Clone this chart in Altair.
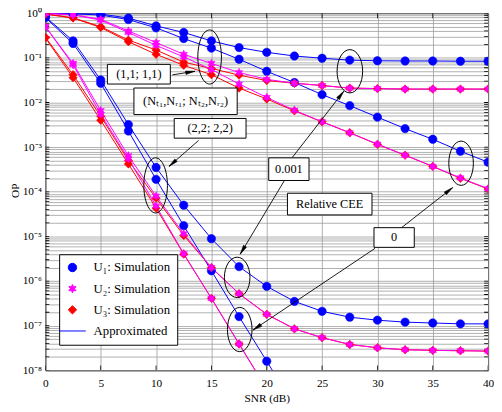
import math
import altair as alt
import pandas as pd

# ---------------- data ----------------
snr = [0, 2.5, 5, 7.5, 10, 12.5, 15, 17.5, 20, 22.5, 25, 27.5, 30, 32.5, 35, 37.5, 40]

# (Nt1,Nr1; Nt2,Nr2) = (1,1; 1,1)
u1_11_cee001 = [0.995, 0.98, 0.96, 0.78, 0.52, 0.37, 0.24, 0.17, 0.133, 0.11, 0.098, 0.089, 0.086, 0.085, 0.085, 0.084, 0.084]
u1_11_cee0 = [0.99, 0.97, 0.91, 0.72, 0.47, 0.27, 0.165, 0.093, 0.050, 0.028, 0.015, 0.0085, 0.0047, 0.0026, 0.0015, 0.00081, 0.00046]
u2_11_cee001 = [0.99, 0.93, 0.73, 0.40, 0.22, 0.12, 0.075, 0.047, 0.033, 0.027, 0.024, 0.021, 0.0205, 0.020, 0.020, 0.020, 0.020]
u2_11_cee0 = [0.99, 0.92, 0.70, 0.37, 0.19, 0.105, 0.055, 0.026, 0.013, 0.0067, 0.0037, 0.0021, 0.00117, 0.00066, 0.00037, 0.000205, 0.000117]
u3_11_cee001 = [0.96, 0.79, 0.50, 0.25, 0.15, 0.080, 0.058, 0.041, 0.031, 0.027, 0.024, 0.021, 0.0205, 0.020, 0.020, 0.020, 0.020]
u3_11_cee0 = [0.96, 0.78, 0.48, 0.23, 0.12, 0.068, 0.042, 0.021, 0.012, 0.0065, 0.0037, 0.0021, 0.00115, 0.00066, 0.00037, 0.0002, 0.000115]

# (2,2; 2,2)
u1_22_cee001 = [0.83, 0.24, 0.032, 0.0032, 3.5e-4, 5.0e-5, 8.9e-6, 2.1e-6, 7.6e-7, 3.5e-7, 2.1e-7, 1.55e-7, 1.33e-7, 1.2e-7, 1.15e-7, 1.1e-7, 1.1e-7]
u1_22_cee0 = [0.80, 0.21, 0.027, 0.0023, 1.9e-4, 1.74e-5, 1.7e-6, 1.6e-7, 1.6e-8, 1.6e-9]
u2_22_cee001 = [0.50, 0.075, 0.0066, 6.4e-4, 8.0e-5, 1.15e-5, 2.0e-6, 5.2e-7, 1.8e-7, 8.5e-8, 5.4e-8, 3.8e-8, 3.2e-8, 2.9e-8, 2.8e-8, 2.75e-8, 2.7e-8]
u2_22_cee0 = [0.50, 0.070, 0.0054, 5.5e-4, 4.8e-5, 4.1e-6, 4.1e-7, 3.9e-8, 3.8e-9]
u3_22_cee001 = [0.29, 0.042, 0.0049, 5.0e-4, 7.2e-5, 1.05e-5, 2.0e-6, 5.2e-7, 1.8e-7, 8.5e-8, 5.4e-8, 3.8e-8, 3.2e-8, 2.9e-8, 2.8e-8, 2.75e-8, 2.7e-8]
u3_22_cee0 = [0.28, 0.036, 0.0040, 4.2e-4, 4.3e-5, 4.0e-6, 4.1e-7, 3.9e-8, 3.8e-9]

users = ["U1", "U2", "U3"]
series_labels = ["U₁: Simulation", "U₂: Simulation", "U₃: Simulation", "Approximated"]

# annotations (positions in data units: SNR dB, OP)
box_text = ["(1,1; 1,1)", "(Nₜ₁,Nᵣ₁; Nₜ₂,Nᵣ₂)", "(2,2; 2,2)", "0.001", "Relative CEE", "0"]
box_x1 = [5.6, 8.0, 11.64, 20.18, 21.87, 29.69]
box_x2 = [11.29, 17.33, 18.13, 23.82, 29.51, 33.33]
box_y1 = [0.0714, 0.0211, 0.00439, 5.76e-4, 9.27e-5, 1.57e-5]
box_y2 = [0.0259, 0.00537, 0.00159, 1.79e-4, 3.03e-5, 5.69e-6]

ell_x = [14.84, 27.51, 37.56, 9.96, 17.33, 17.56]
ell_y = [0.1045, 0.0501, 4.36e-4, 1.39e-4, 1.21e-6, 8.2e-8]
ell_w = [24, 26, 25, 24, 26, 25]
ell_h = [55, 44, 45, 56, 41, 45]

arr_x1 = [11.47, 13.84, 22.28, 21.6, 32.18, 29.78]
arr_y1 = [0.0415, 1.41e-3, 5.75e-4, 1.79e-4, 1.57e-5, 5.4e-6]
arr_x2 = [13.51, 11.17, 26.96, 17.6, 36.8, 18.76]
arr_y2 = [0.0501, 3.70e-4, 0.01787, 3.99e-6, 1.24e-4, 8.0e-8]

x_ticks = [0, 5, 10, 15, 20, 25, 30, 35, 40]

# ---------------- styling ----------------
W, H = 450, 363
BLUE, MAGENTA, RED = "#0000ff", "#ff00ff", "#ff0000"
FONT = "Liberation Serif"
GRID = "#9c9c9c"
PX_PER_DB = W / 40.0
PX_PER_DEC = H / 8.0

STAR = ("M0,-1 L0.25,-0.433 L0.866,-0.5 L0.5,0 L0.866,0.5 L0.25,0.433 L0,1 "
        "L-0.25,0.433 L-0.866,0.5 L-0.5,0 L-0.866,-0.5 L-0.25,-0.433 Z")
LINESYM = "M-3.2,0 L3.2,0"
ARROWHEAD = "M0,0 L0.38,2 L-0.38,2 Z"


def ellipse_path(rx):
    k = 0.5523
    return (f"M0,-1 C{k*rx:.4f},-1 {rx:.4f},{-k:.4f} {rx:.4f},0 "
            f"C{rx:.4f},{k:.4f} {k*rx:.4f},1 0,1 "
            f"C{-k*rx:.4f},1 {-rx:.4f},{k:.4f} {-rx:.4f},0 "
            f"C{-rx:.4f},{-k:.4f} {-k*rx:.4f},-1 0,-1 Z")


# ---------------- build tables ----------------
curves = [
    ("U1", "11", "0.001", u1_11_cee001), ("U1", "11", "0", u1_11_cee0),
    ("U1", "22", "0.001", u1_22_cee001), ("U1", "22", "0", u1_22_cee0),
    ("U3", "11", "0.001", u3_11_cee001), ("U3", "11", "0", u3_11_cee0),
    ("U3", "22", "0.001", u3_22_cee001), ("U3", "22", "0", u3_22_cee0),
    ("U2", "11", "0.001", u2_11_cee001), ("U2", "11", "0", u2_11_cee0),
    ("U2", "22", "0.001", u2_22_cee001), ("U2", "22", "0", u2_22_cee0),
]
lab = dict(zip(users, series_labels[:3]))
rows = []
for u, cfg, cee, vals in curves:
    for s, v in zip(snr, vals):
        rows.append({"snr": s, "op": v, "user": u, "curve": f"{u}-{cfg}-{cee}", "series": lab[u]})
df = pd.DataFrame(rows)

x_enc = alt.X("snr:Q", scale=alt.Scale(domain=[0, 40], nice=False, zero=False),
              axis=alt.Axis(values=x_ticks, grid=True, gridColor=GRID, gridWidth=0.8,
                            domain=False, ticks=False, labelFont=FONT, labelFontSize=11.5,
                            labelColor="black", labelPadding=7, labelFlush=False,
                            title="SNR (dB)", titleFont=FONT, titleFontSize=11.5,
                            titleFontWeight="normal", titleColor="black", titlePadding=4))

yvals = []
for e in range(-8, 1):
    yvals.append(10.0 ** e)
    if e < 0:
        for m in range(2, 10):
            yvals.append(m * 10.0 ** e)
label_expr = ("abs(log(datum.value)/LN10 - round(log(datum.value)/LN10)) < 0.001 ? "
              "'10' + ['⁰','⁻¹','⁻²','⁻³','⁻⁴','⁻⁵','⁻⁶','⁻⁷','⁻⁸'][-round(log(datum.value)/LN10)] : ''")
y_enc = alt.Y("op:Q", scale=alt.Scale(type="log", domain=[1e-8, 1], nice=False),
              axis=alt.Axis(values=yvals, grid=True, gridColor=GRID, gridWidth=0.8,
                            domain=False, ticks=False, labelExpr=label_expr, labelOverlap=False,
                            labelFont=FONT, labelFontSize=11.5, labelColor="black", labelPadding=4,
                            title="OP", titleFont=FONT, titleFontSize=11.5, titleFontWeight="normal",
                            titleColor="black", titleX=-25, titleY=180))

lines = alt.Chart(df).mark_line(strokeWidth=1, clip=True).encode(
    x=x_enc, y=y_enc,
    color=alt.Color("user:N", scale=alt.Scale(domain=users, range=[BLUE, MAGENTA, RED]), legend=None),
    detail="curve:N",
)

legend = alt.Legend(orient="none", legendX=14, legendY=245, title=None, fillColor="white",
                    strokeColor="black", padding=7, labelFont=FONT, labelFontSize=13,
                    labelColor="black", labelOffset=15, rowPadding=7.5, symbolSize=72,
                    symbolStrokeWidth=1, labelLimit=0)
col_range = [BLUE, MAGENTA, RED, BLUE]
points = alt.Chart(df).mark_point(filled=True, size=72, opacity=1, strokeWidth=0.6, clip=True).encode(
    x=x_enc, y=y_enc,
    fill=alt.Fill("series:N", scale=alt.Scale(domain=series_labels, range=col_range), legend=legend),
    stroke=alt.Stroke("series:N", scale=alt.Scale(domain=series_labels, range=col_range), legend=legend),
    shape=alt.Shape("series:N", scale=alt.Scale(domain=series_labels,
                                                range=["circle", STAR, "diamond", LINESYM]), legend=legend),
)

# inward ticks on the frame (MATLAB style)
ytick_df = pd.DataFrame({"op": yvals})
xtick_df = pd.DataFrame({"snr": x_ticks})
tick_layers = []
for xv in (0, W):
    tick_layers.append(alt.Chart(ytick_df).mark_tick(orient="horizontal", size=8, thickness=0.8,
                                                     color="black", opacity=1, clip=True).encode(
        y=y_enc, x=alt.value(xv)))
for yv in (0, H):
    tick_layers.append(alt.Chart(xtick_df).mark_tick(orient="vertical", size=10, thickness=0.8,
                                                     color="black", opacity=1, clip=True).encode(
        x=x_enc, y=alt.value(yv)))

layers = [*tick_layers, lines, points]

# ellipses
for ex, ey, ew, eh in zip(ell_x, ell_y, ell_w, ell_h):
    layers.append(alt.Chart(pd.DataFrame({"snr": [ex], "op": [ey]})).mark_point(
        shape=ellipse_path(ew / eh), size=eh * eh, filled=False, stroke="black",
        strokeWidth=1, opacity=1).encode(x=x_enc, y=y_enc))

# arrows
adf = pd.DataFrame({"snr": arr_x1, "op": arr_y1, "snr2": arr_x2, "op2": arr_y2})
adf["ang"] = [
    (math.degrees(math.atan2((x2 - x1) * PX_PER_DB,
                             (math.log10(y2) - math.log10(y1)) * PX_PER_DEC)) + 360) % 360
    for x1, y1, x2, y2 in zip(arr_x1, arr_y1, arr_x2, arr_y2)
]
layers.append(alt.Chart(adf).mark_rule(color="black", strokeWidth=0.9).encode(
    x=x_enc, y=y_enc, x2="snr2:Q", y2="op2:Q"))
hdf = pd.DataFrame({"snr": arr_x2, "op": arr_y2, "ang": adf["ang"]})
layers.append(alt.Chart(hdf).mark_point(shape=ARROWHEAD, size=90, filled=True, fill="black",
                                        stroke="black", strokeWidth=0.5, opacity=1).encode(
    x=x_enc, y=y_enc, angle=alt.Angle("ang:Q", scale=None)))

# text boxes
bdf = pd.DataFrame({"snr": box_x1, "snr2": box_x2, "op": box_y1, "op2": box_y2})
layers.append(alt.Chart(bdf).mark_rect(fill="white", stroke="black", strokeWidth=1).encode(
    x=x_enc, x2="snr2:Q", y=y_enc, y2="op2:Q"))
tdf = pd.DataFrame({
    "snr": [(a + b) / 2 for a, b in zip(box_x1, box_x2)],
    "op": [math.sqrt(a * b) for a, b in zip(box_y1, box_y2)],
    "txt": box_text,
})
layers.append(alt.Chart(tdf).mark_text(font=FONT, fontSize=12.5, color="black", align="center",
                                       baseline="middle").encode(x=x_enc, y=y_enc, text="txt:N"))

chart = alt.layer(*layers).properties(
    width=W, height=H,
    autosize=alt.AutoSizeParams(type="none"),
    padding={"left": 38, "top": 2, "right": 6, "bottom": 36},
).configure_view(stroke="black", strokeWidth=1)

chart.save("out.html", embed_options={"renderer": "svg", "actions": False})
